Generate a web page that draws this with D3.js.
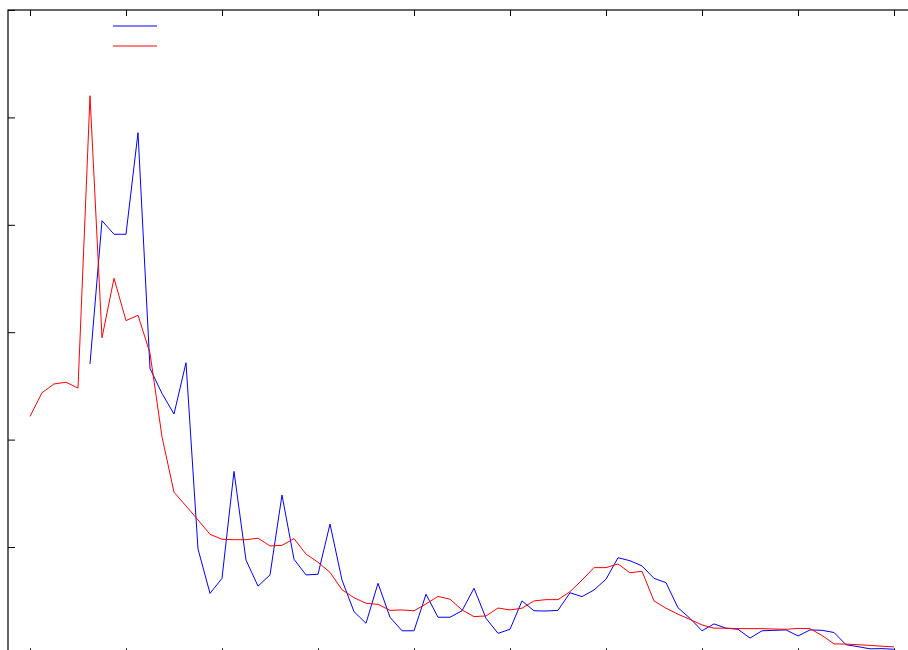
<!DOCTYPE html>
<html>
<head>
<meta charset="utf-8">
<script src="https://cdn.jsdelivr.net/npm/d3@7"></script>
<style>
  html, body { margin: 0; padding: 0; background: #fff; }
  svg { display: block; }
</style>
</head>
<body>
<svg id="chart" width="908" height="650"></svg>
<script>
// Sample index on the horizontal axis (one step per point)
const xDomain = [-11 / 6, 72 + 11 / 6];
const xTicks = [0, 8, 16, 24, 32, 40, 48, 56, 64, 72];
const yDomain = [0, 30];
const yTicks = [0, 5, 10, 15, 20, 25, 30];

// Smoothed series (starts at index 0)
const redStart = 0;
const redValues = [
  11.08, 12.18, 12.59, 12.67, 12.40, 26.01, 14.74, 17.51, 15.54, 15.79,
  14.02, 10.13, 7.55, 6.91, 6.26, 5.59, 5.36, 5.34, 5.34, 5.41,
  5.05, 5.08, 5.39, 4.67, 4.29, 3.82, 3.01, 2.64, 2.38, 2.33,
  2.05, 2.07, 2.03, 2.35, 2.70, 2.57, 2.07, 1.76, 1.79, 2.16,
  2.07, 2.15, 2.49, 2.55, 2.55, 2.92, 3.46, 4.04, 4.04, 4.21,
  3.80, 3.87, 2.49, 2.15, 1.87, 1.63, 1.37, 1.22, 1.22, 1.20,
  1.20, 1.20, 1.18, 1.17, 1.21, 1.20, 0.88, 0.49, 0.48, 0.45,
  0.42, 0.38, 0.35
];

// Raw series (starts at index 5)
const blueStart = 5;
const blueValues = [
  13.52, 20.19, 19.56, 19.56, 24.29, 13.31, 12.15, 11.19, 13.58, 4.91,
  2.84, 3.54, 8.52, 4.39, 3.18, 3.70, 7.42, 4.43, 3.70, 3.73,
  6.07, 3.46, 1.99, 1.45, 3.31, 1.73, 1.10, 1.10, 2.80, 1.73,
  1.73, 2.03, 3.08, 1.68, 0.98, 1.17, 2.49, 2.03, 2.02, 2.05,
  2.87, 2.69, 3.00, 3.50, 4.50, 4.36, 4.12, 3.54, 3.34, 2.17,
  1.68, 1.10, 1.42, 1.22, 1.17, 0.76, 1.10, 1.12, 1.14, 0.86,
  1.14, 1.12, 1.02, 0.45, 0.36, 0.26, 0.27, 0.24
];

const seriesColors = ["#0000ff", "#ff0000"];

const plot = { left: 8, top: 10, right: 916, bottom: 654.4 };

const svg = d3.select("#chart");

const x = d3.scaleLinear().domain(xDomain).range([plot.left, plot.right]);
const y = d3.scaleLinear().domain(yDomain).range([plot.bottom, plot.top]);

// Axes with inward ticks and no labels
const tickLen = 6;
svg.append("g")
  .attr("transform", `translate(0,${plot.top})`)
  .call(d3.axisBottom(x).tickValues(xTicks).tickSize(tickLen).tickFormat(""))
  .call(g => g.select(".domain").remove());
svg.append("g")
  .attr("transform", `translate(0,${plot.bottom})`)
  .call(d3.axisTop(x).tickValues(xTicks).tickSize(tickLen).tickFormat(""))
  .call(g => g.select(".domain").remove());
svg.append("g")
  .attr("transform", `translate(${plot.left},0)`)
  .call(d3.axisRight(y).tickValues(yTicks).tickSize(7).tickFormat(""))
  .call(g => g.select(".domain").remove());
svg.append("g")
  .attr("transform", `translate(${plot.right},0)`)
  .call(d3.axisLeft(y).tickValues(yTicks).tickSize(7).tickFormat(""))
  .call(g => g.select(".domain").remove());
svg.selectAll(".tick line").attr("stroke", "#000").attr("stroke-width", 1);

// Plot frame
svg.append("rect")
  .attr("x", plot.left)
  .attr("y", plot.top)
  .attr("width", plot.right - plot.left)
  .attr("height", plot.bottom - plot.top)
  .attr("fill", "none")
  .attr("stroke", "#000")
  .attr("stroke-width", 1.2);

const line = d3.line().x(d => x(d.i)).y(d => y(d.v));

const toPoints = (start, values) => values.map((v, k) => ({ i: start + k, v }));

svg.append("path")
  .datum(toPoints(blueStart, blueValues))
  .attr("fill", "none")
  .attr("stroke", seriesColors[0])
  .attr("stroke-width", 1)
  .attr("d", line);

svg.append("path")
  .datum(toPoints(redStart, redValues))
  .attr("fill", "none")
  .attr("stroke", seriesColors[1])
  .attr("stroke-width", 1)
  .attr("d", line);

// Key samples
const key = svg.append("g").attr("transform", "translate(113,26)");
seriesColors.forEach((c, k) => {
  key.append("line")
    .attr("x1", 0).attr("x2", 44)
    .attr("y1", k * 20).attr("y2", k * 20)
    .attr("stroke", c)
    .attr("stroke-width", 1);
});
</script>
</body>
</html>
